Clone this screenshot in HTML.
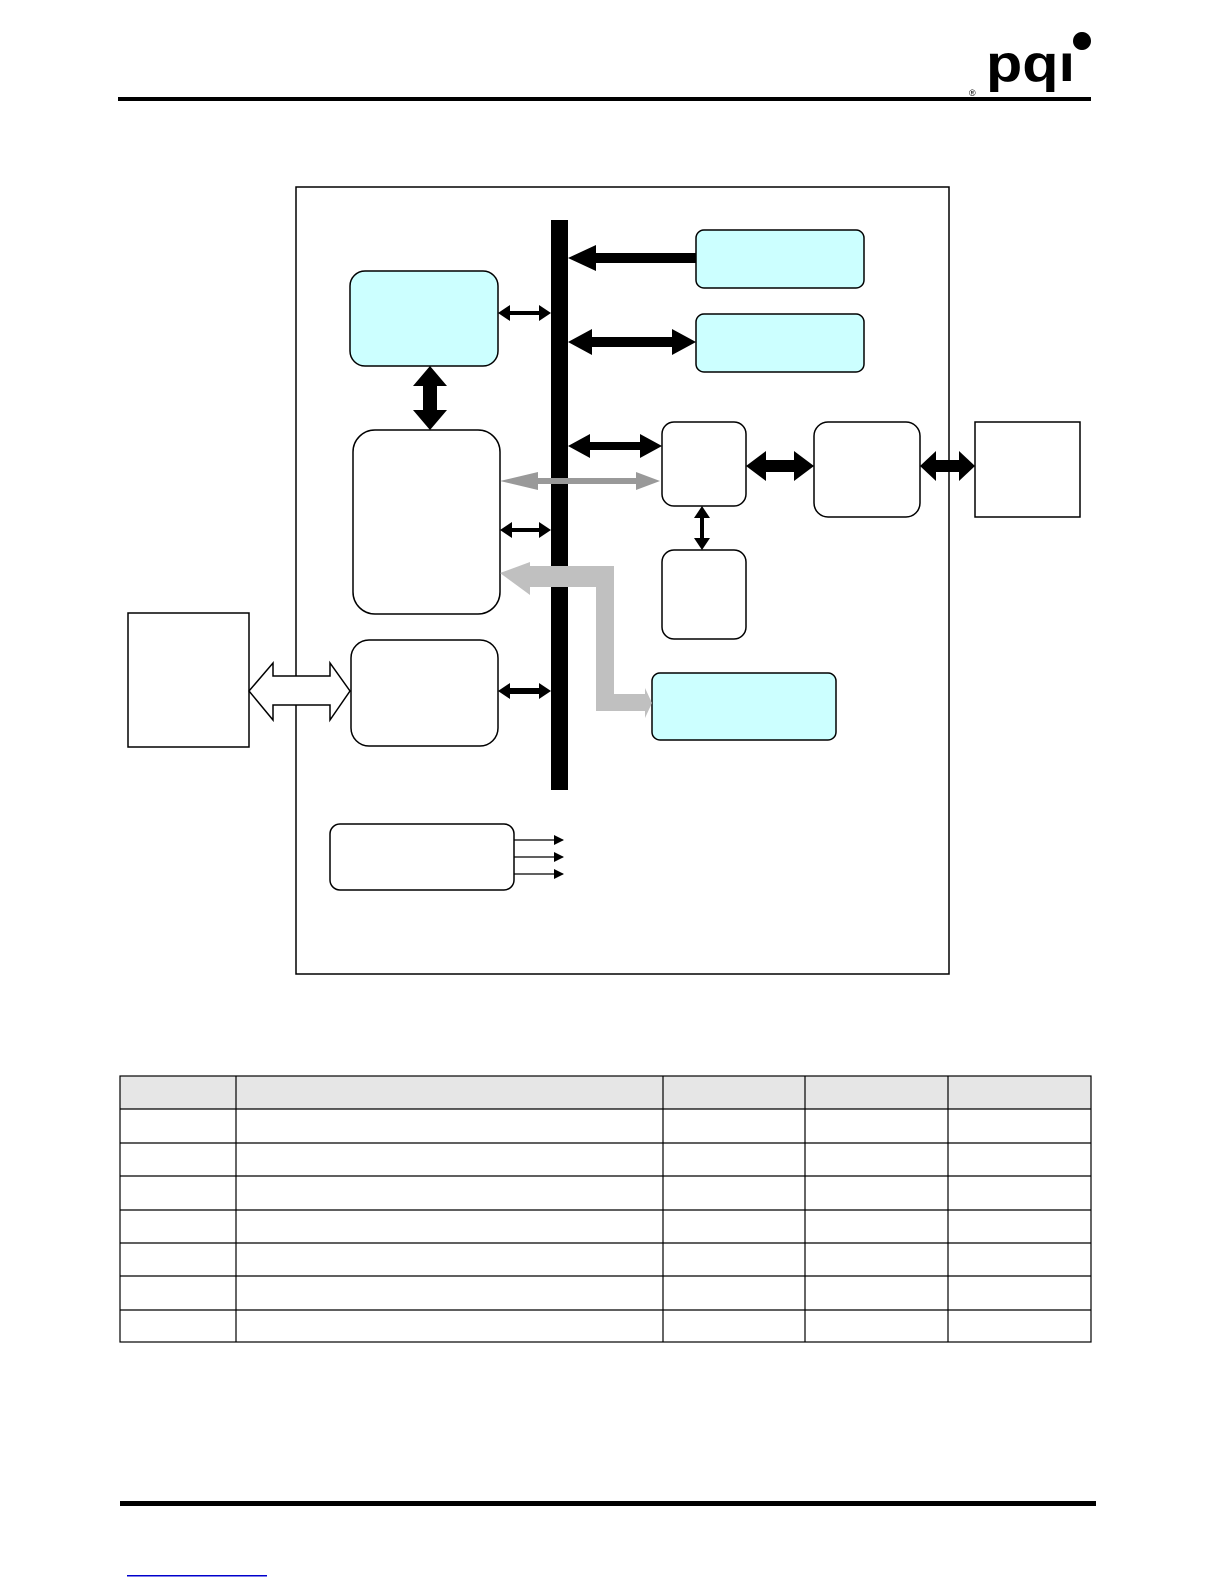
<!DOCTYPE html>
<html><head><style>html,body{margin:0;background:#fff;overflow:hidden}svg{display:block}</style></head><body>
<svg width="1225" height="1585" viewBox="0 0 1225 1585" xmlns="http://www.w3.org/2000/svg">
<defs>
<marker id="ah" markerWidth="10" markerHeight="10" refX="9" refY="5" orient="auto" markerUnits="userSpaceOnUse"><path d="M0,0 L10,5 L0,10z" fill="#000"/></marker>
</defs>
<!-- header -->
<rect x="118" y="97" width="973" height="4" fill="#000"/>
<text x="986" y="81" font-family="Liberation Sans, sans-serif" font-size="52" font-weight="bold" fill="#000" textLength="89" lengthAdjust="spacingAndGlyphs">pqı</text>
<circle cx="1082" cy="41" r="9" fill="#000"/>
<text x="969" y="96" font-family="Liberation Sans, sans-serif" font-size="9" fill="#000">®</text>
<!-- outer frame -->
<rect x="296" y="187" width="653" height="787" fill="none" stroke="#000" stroke-width="1.5"/>
<!-- bus -->
<rect x="551" y="220" width="17" height="570" fill="#000"/>
<!-- boxes -->
<g stroke="#000" stroke-width="1.5">
<rect x="350" y="271" width="148" height="95" rx="15" fill="#ccffff"/>
<rect x="696" y="230" width="168" height="58" rx="8" fill="#ccffff"/>
<rect x="696" y="314" width="168" height="58" rx="8" fill="#ccffff"/>
<rect x="353" y="430" width="147" height="184" rx="22" fill="#fff"/>
<rect x="351" y="640" width="147" height="106" rx="18" fill="#fff"/>
<rect x="662" y="422" width="84" height="84" rx="12" fill="#fff"/>
<rect x="814" y="422" width="106" height="95" rx="14" fill="#fff"/>
<rect x="975" y="422" width="105" height="95" fill="#fff"/>
<rect x="662" y="550" width="84" height="89" rx="12" fill="#fff"/>
<rect x="652" y="673" width="184" height="67" rx="8" fill="#ccffff"/>
<rect x="128" y="613" width="121" height="134" fill="#fff"/>
<rect x="330" y="824" width="184" height="66" rx="10" fill="#fff"/>
</g>
<!-- hollow double arrow -->
<path d="M249,691 L273,663 L273,676 L330,676 L330,663 L350,691 L330,720 L330,705 L273,705 L273,720 Z" fill="#fff" stroke="#000" stroke-width="1.5"/>
<!-- thick arrows -->
<path d="M568,258 L596,245 L596,253 L696,253 L696,263 L596,263 L596,271 Z" fill="#000"/>
<path d="M568,342 L592,329 L592,337 L672,337 L672,329 L696,342 L672,355 L672,347 L592,347 L592,355 Z" fill="#000"/>
<path d="M746,466 L766,451 L766,460 L794,460 L794,451 L814,466 L794,481 L794,472 L766,472 L766,481 Z" fill="#000"/>
<path d="M920,466 L936,451 L936,460 L959,460 L959,451 L975,466 L959,481 L959,472 L936,472 L936,481 Z" fill="#000"/>
<path d="M430,366 L447,386 L437,386 L437,410 L447,410 L430,430 L413,410 L423,410 L423,386 L413,386 Z" fill="#000"/>
<path d="M568,446 L590,434 L590,442 L640,442 L640,434 L662,446 L640,458 L640,450 L590,450 L590,458 Z" fill="#000"/>
<!-- small doubles -->
<g fill="#000">
<path d="M498,313 L510,305 L510,311 L539,311 L539,305 L551,313 L539,321 L539,315 L510,315 L510,321 Z"/>
<path d="M500,530 L512,522 L512,528 L539,528 L539,522 L551,530 L539,538 L539,532 L512,532 L512,538 Z"/>
<path d="M498,691 L510,683 L510,688 L539,688 L539,683 L551,691 L539,699 L539,694 L510,694 L510,699 Z"/>
<path d="M702,506 L710,518 L704,518 L704,538 L710,538 L702,550 L694,538 L700,538 L700,518 L694,518 Z"/>
</g>
<!-- gray double -->
<path d="M500,481 L538,472 L538,478 L636,478 L636,472 L660,481 L636,490 L636,484 L538,484 L538,490 Z" fill="#999"/>
<!-- light gray L arrow -->
<path d="M500,573 L530,562 L530,566 L614,566 L614,694 L645,694 L645,688 L652,703 L645,718 L645,711 L596,711 L596,587 L530,587 L530,595 Z" fill="#c0c0c0"/>
<!-- I outputs -->
<g stroke="#000" stroke-width="1.2" marker-end="url(#ah)">
<line x1="514" y1="840" x2="563" y2="840"/>
<line x1="514" y1="857" x2="563" y2="857"/>
<line x1="514" y1="874" x2="563" y2="874"/>
</g>
<!-- table -->
<rect x="120" y="1076" width="971" height="33" fill="#e6e6e6"/>
<g stroke="#000" stroke-width="1.2" fill="none">
<rect x="120" y="1076" width="971" height="266"/>
<line x1="120" y1="1109" x2="1091" y2="1109"/>
<line x1="120" y1="1143" x2="1091" y2="1143"/>
<line x1="120" y1="1176" x2="1091" y2="1176"/>
<line x1="120" y1="1210" x2="1091" y2="1210"/>
<line x1="120" y1="1243" x2="1091" y2="1243"/>
<line x1="120" y1="1276" x2="1091" y2="1276"/>
<line x1="120" y1="1310" x2="1091" y2="1310"/>
<line x1="236" y1="1076" x2="236" y2="1342"/>
<line x1="663" y1="1076" x2="663" y2="1342"/>
<line x1="805" y1="1076" x2="805" y2="1342"/>
<line x1="948" y1="1076" x2="948" y2="1342"/>
</g>
<!-- footer -->
<rect x="120" y="1501" width="976" height="5" fill="#000"/>
<rect x="127" y="1575" width="140" height="1.5" fill="#0000cc"/>
</svg>
</body></html>
